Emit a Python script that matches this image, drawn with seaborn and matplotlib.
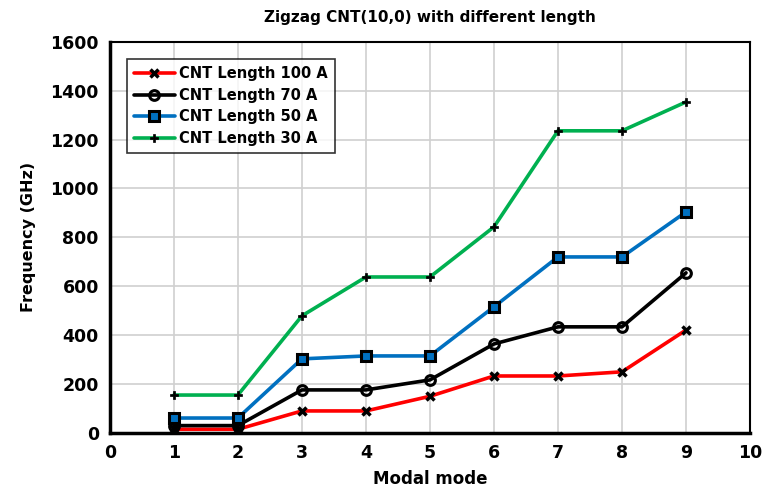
import matplotlib
matplotlib.use("Agg")
import matplotlib.pyplot as plt
import seaborn as sns
import pandas as pd

modes = [1, 2, 3, 4, 5, 6, 7, 8, 9]
len100 = [15, 15, 90, 90, 150, 233, 233, 250, 421]
len70 = [30, 30, 176, 176, 217, 364, 434, 434, 655]
len50 = [61, 61, 303, 315, 315, 516, 720, 720, 904]
len30 = [155, 155, 479, 638, 638, 843, 1236, 1236, 1354]
labels = ["CNT Length 100 A", "CNT Length 70 A", "CNT Length 50 A", "CNT Length 30 A"]

sns.set_theme(style="white")
plt.rcParams['font.family'] = ['DejaVu Sans']
plt.rcParams['text.color'] = 'black'
plt.rcParams['axes.labelcolor'] = 'black'

fig = plt.figure(figsize=(7.63, 5.04), dpi=100)
ax = fig.add_axes([0.144, 0.141, 0.839, 0.776])

styles = [
    (len100, "#ff0000", "x", dict(markersize=6, markeredgewidth=2.5, markeredgecolor="black")),
    (len70, "black", "o", dict(markersize=7, markeredgewidth=2.2, markeredgecolor="black", markerfacecolor="none")),
    (len50, "#0070c0", "s", dict(markersize=7, markeredgewidth=2.2, markeredgecolor="black", markerfacecolor="#0070c0")),
    (len30, "#00b050", "P", dict(markersize=6, markeredgewidth=0.5, markeredgecolor="black", markerfacecolor="black")),
]
for (vals, col, mk, kw), lab in zip(styles, labels):
    df = pd.DataFrame({"mode": modes, "freq": vals})
    sns.lineplot(data=df, x="mode", y="freq", ax=ax, color=col, marker=mk,
                 linewidth=2.6, label=lab, **kw)

ax.set_xlim(0, 10)
ax.set_ylim(0, 1600)
ax.set_xticks(range(0, 11))
ax.set_yticks(range(0, 1601, 200))
ax.grid(True, color="#d0d0d0", linewidth=1.2)
ax.set_axisbelow(True)
for s in ["left", "bottom"]:
    ax.spines[s].set_linewidth(2.5)
    ax.spines[s].set_color("black")
for s in ["top", "right"]:
    ax.spines[s].set_linewidth(1.5)
    ax.spines[s].set_color("black")
ax.tick_params(direction="in", length=5, width=2, colors="black", labelsize=12.5, pad=8)
for t in ax.get_xticklabels() + ax.get_yticklabels():
    t.set_fontweight("bold")
ax.set_xlabel("Modal mode", fontsize=12, fontweight="bold", labelpad=6, color="black")
ax.set_ylabel("Frequency (GHz)", fontsize=11.5, fontweight="bold", labelpad=10, color="black")
ax.set_title("Zigzag CNT(10,0) with different length", fontsize=11, fontweight="bold", pad=14, color="black")

leg = ax.legend(loc="upper left", bbox_to_anchor=(0.015, 0.975), frameon=True, fancybox=False,
                edgecolor="black", fontsize=10.5, handlelength=2.8, borderpad=0.5,
                labelspacing=0.45, handletextpad=0.3)
leg.get_frame().set_linewidth(1.2)
for t in leg.get_texts():
    t.set_fontweight("bold")
    t.set_color("black")

fig.savefig("out.png", dpi=100)
